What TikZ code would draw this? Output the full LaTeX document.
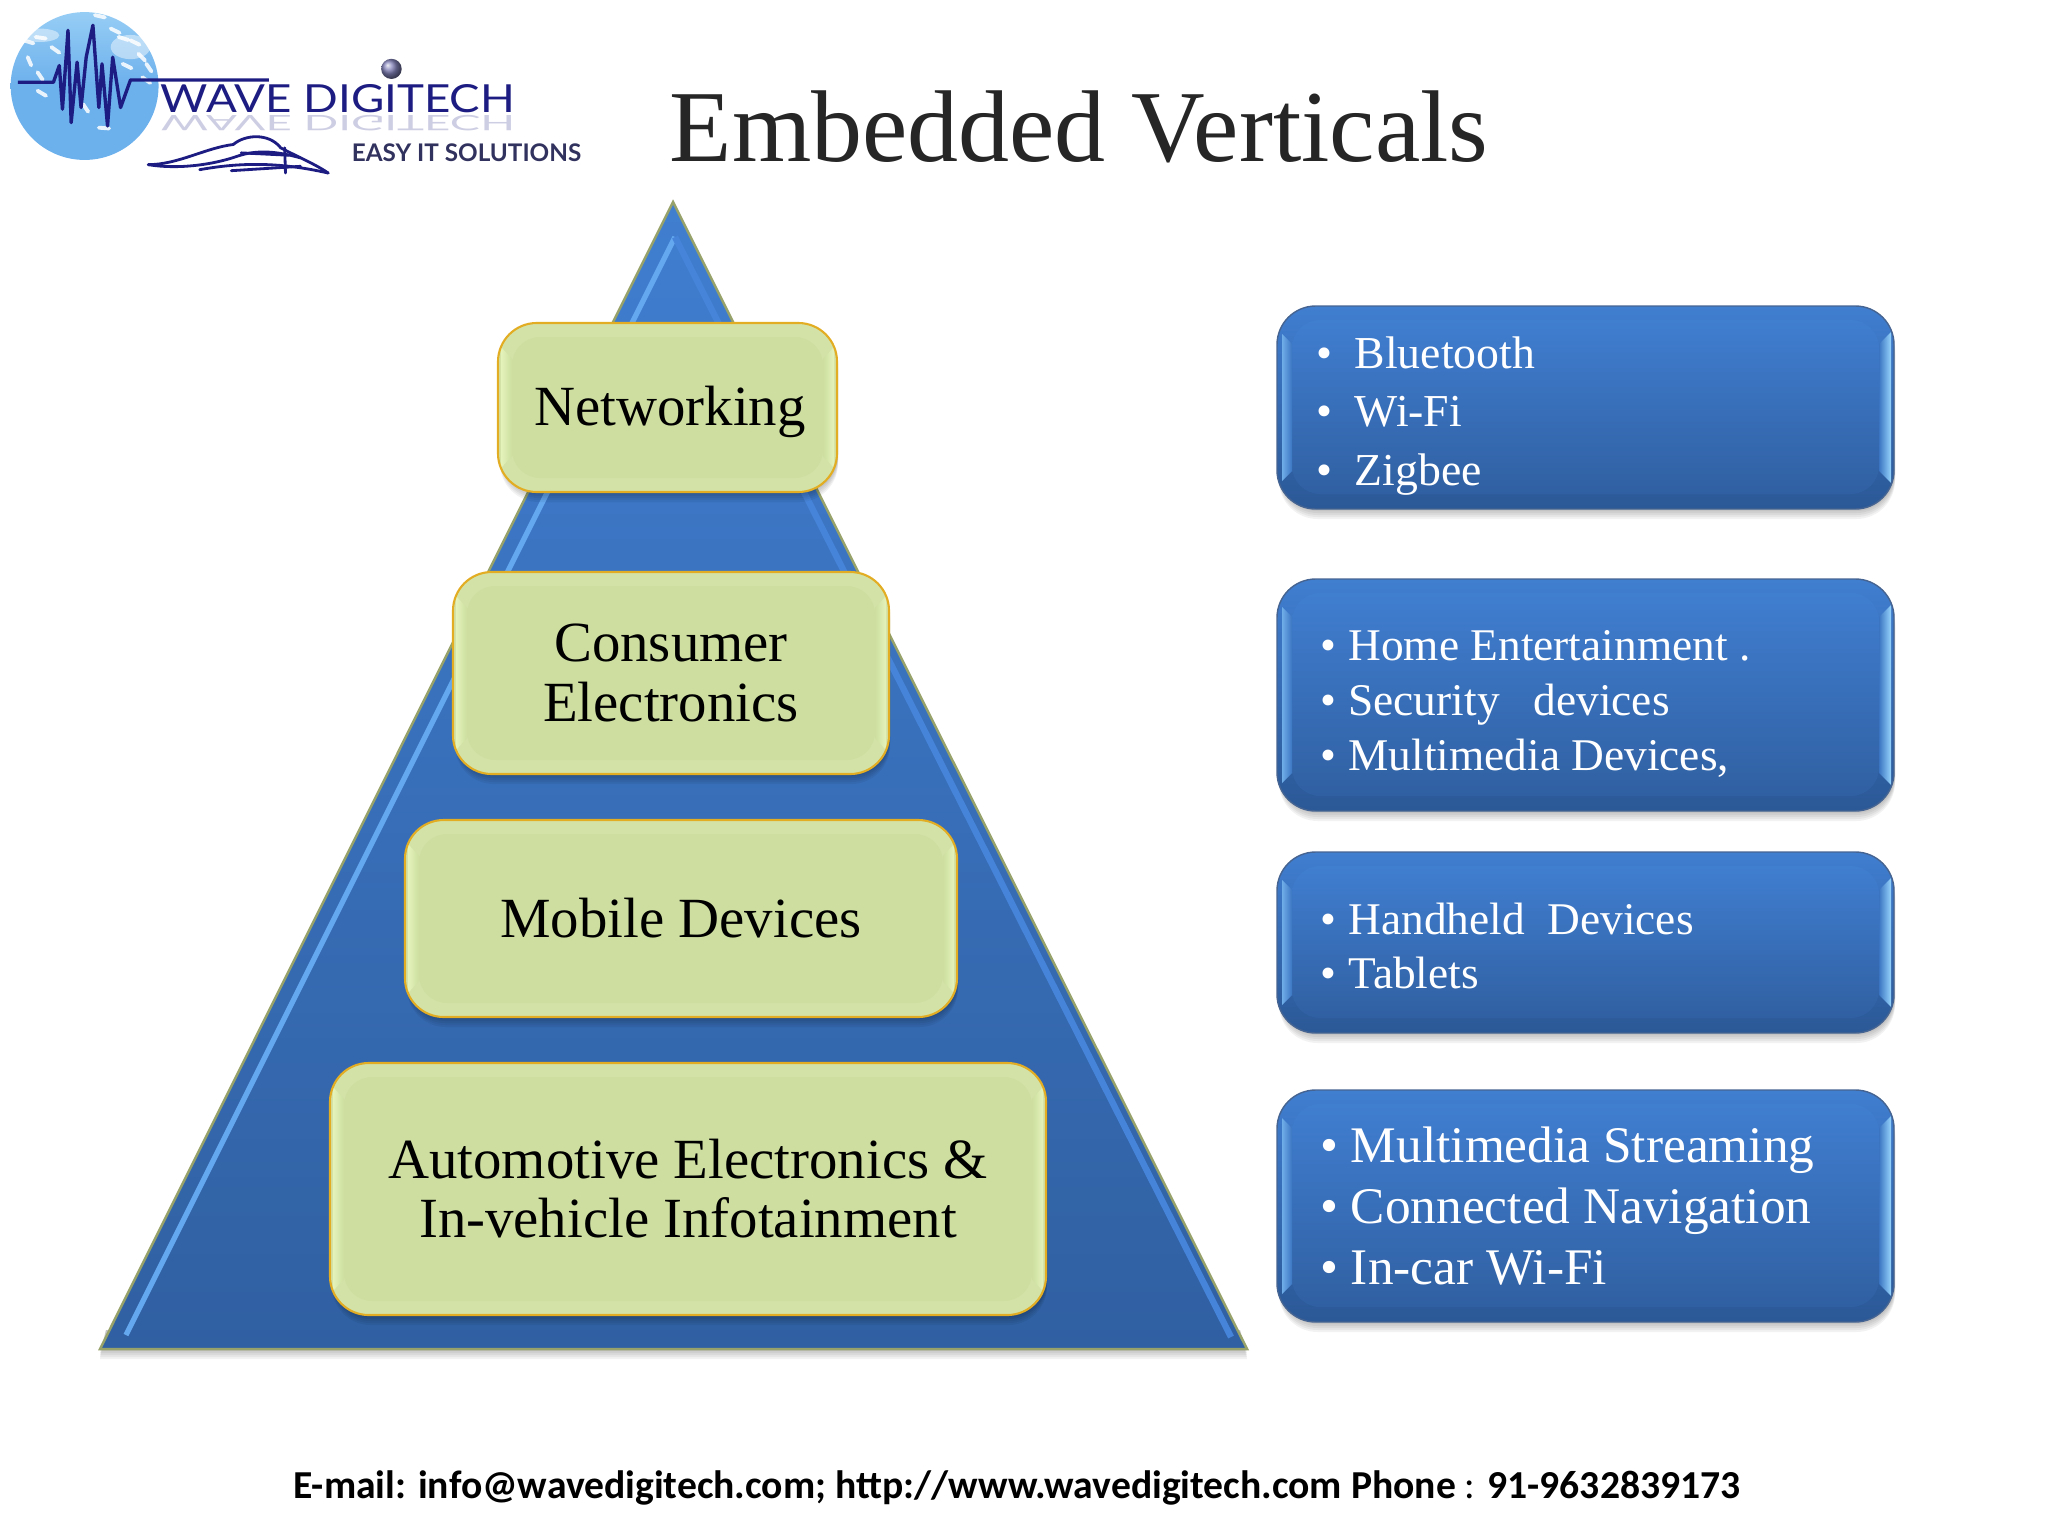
\documentclass[tikz,border=0pt]{standalone}
\usepackage{fontspec}
\usepackage{graphicx}
\usepackage{tikz}
\setmainfont{Liberation Serif}
\newfontfamily\footfont{Carlito}
\newfontfamily\logofont{Lato}
\definecolor{figblue}{RGB}{64,126,208}
\definecolor{figbluelo}{RGB}{48,96,162}
\definecolor{figblueed}{RGB}{43,88,150}
\definecolor{figbluehi}{RGB}{150,212,252}
\definecolor{figblueln}{RGB}{70,100,145}
\definecolor{figpyrhi}{RGB}{100,168,240}
\definecolor{figpyrmd}{RGB}{70,132,218}
\definecolor{figgreen}{RGB}{205,222,160}
\definecolor{figgreenhi}{RGB}{228,243,186}
\definecolor{figgreened}{RGB}{211,227,168}
\definecolor{figgold}{RGB}{226,172,35}
\definecolor{figolive}{RGB}{150,162,105}
\definecolor{fignavy}{RGB}{28,28,130}
\definecolor{figsky}{RGB}{108,176,236}
\definecolor{figskyhi}{RGB}{150,205,245}
\definecolor{figtag}{RGB}{50,50,95}
\tikzset{
  softsh/.style  ={fill=black,opacity=0.05,rounded corners=11pt},
  grnlab/.style  ={inner sep=0pt,align=center,text=black,font=\fontsize{16.15}{16.8}\selectfont},
  blulab/.style  ={inner sep=0pt,align=left,anchor=west,text=white},
  lstA/.style    ={blulab,font=\fontsize{13}{16.6}\selectfont},
  lstB/.style    ={blulab,font=\fontsize{12.9}{15.6}\selectfont},
  lstC/.style    ={blulab,font=\fontsize{14.6}{17.4}\selectfont},
  logotxt/.style ={inner sep=0pt,anchor=base west,text=fignavy},
  spark/.style   ={white,line width=1.1pt,line cap=round,opacity=0.85},
  swoosh/.style  ={fignavy,line width=0.8pt,line cap=round},
}
\newcommand{\blt}[1]{\makebox[#1][l]{•}}
\newcommand{\softbox}[4]{%
  \foreach \sd in {1,...,5}
    \fill[softsh] (#1+2,#2+\sd*2) rectangle (#3+1,#4+\sd*2);
}
\newcommand{\grnbox}[6]{%
  \softbox{#2}{#3}{#4}{#5}
  \path[rounded corners=11pt,fill=figgreened] (#2,#3) rectangle (#4,#5);
  \path[rounded corners=8pt,fill=figgreen] (#2+14,#3+14) rectangle (#4-14,#5-14);
  \shade[left color=figgreenhi,right color=figgreen] (#2+3,#3+24) -- (#2+14,#3+36) -- (#2+14,#5-36) -- (#2+3,#5-24) -- cycle;
  \shade[left color=figgreen,right color=figgreenhi] (#4-14,#3+36) -- (#4-3,#3+24) -- (#4-3,#5-24) -- (#4-14,#5-36) -- cycle;
  \draw[rounded corners=11pt,draw=figgold,line width=0.6pt] (#2,#3) rectangle (#4,#5);
  \node[grnlab] (#1) at ({(#2+#4)/2},{(#3+#5)/2}) {#6};
}
\newcommand{\blubox}[5]{%
  \softbox{#2}{#3}{#4}{#5}
  \path[rounded corners=11pt,top color=figblue,bottom color=figblueed] (#2,#3) rectangle (#4,#5);
  \path[rounded corners=8pt,top color=figblue,bottom color=figbluelo] (#2+15,#3+14) rectangle (#4-15,#5-15);
  \shade[left color=figbluehi!55!figblue,right color=figblue!70!figbluelo] (#2+5,#3+28) -- (#2+15,#3+38) -- (#2+15,#5-38) -- (#2+5,#5-28) -- cycle;
  \shade[left color=figblue!70!figbluelo,right color=figbluehi] (#4-15,#3+38) -- (#4-3,#3+26) -- (#4-3,#5-26) -- (#4-15,#5-38) -- cycle;
  \draw[rounded corners=11pt,draw=figblueln,line width=0.4pt] (#2,#3) rectangle (#4,#5);
  \coordinate (#1) at ({(#2+#4)/2},{(#3+#5)/2});
}
\begin{document}
\begin{tikzpicture}[x=0.01cm,y=-0.01cm]
  \useasboundingbox (0,0) rectangle (2048,1536);
  % logo
  \begin{scope}[xscale=0.3954,yscale=0.336]
    \path[top color=figskyhi,bottom color=figsky,middle color=figsky] (214,256) ellipse (187 and 220);
    \foreach \sx/\sy/\ang in {60/120/20,95/215/60,95/270/35,90/110/10,350/160/50,330/120/30,240/45/15,280/85/30,250/380/5,360/230/40,210/310/60,310/190/30,130/140/40,70/170/70,300/110/20,370/190/60}
      \draw[spark] (\sx,\sy) -- ++(\ang:26);
    \fill[white,opacity=0.45] (100,105) ellipse (50 and 20);
    \fill[white,opacity=0.45] (330,140) ellipse (50 and 36);
    \draw[fignavy,line width=0.95pt,line join=round] (45,245) -- (135,245) -- (150,195) -- (158,325) -- (172,90) -- (180,365) -- (195,185) -- (205,320) -- (218,170) -- (235,75) -- (250,320) -- (258,190) -- (272,375) -- (285,170) -- (305,320) -- (330,238) -- (680,238);
    \shade[ball color=fignavy!55] (990,205) ellipse (26 and 30);
    \node[logotxt,font=\logofont\fontsize{11}{11}\selectfont] (logoname) at (405,335) {\scalebox{1.18}[1]{WAVE DIGITECH}};
    \node[logotxt,opacity=0.22,font=\logofont\fontsize{11}{11}\selectfont] (logomirror) at (405,345) {\scalebox{1.18}[-0.55]{WAVE DIGITECH}};
    \node[logotxt,font=\logofont\bfseries\fontsize{6.9}{7}\selectfont,text=figtag] (logotag) at (888,480) {EASY IT SOLUTIONS};
    \draw[swoosh] (375,490) .. controls (450,490) and (520,440) .. (590,430) .. controls (620,400) and (680,395) .. (710,440) .. controls (750,465) and (800,490) .. (830,515);
    \draw[swoosh] (375,490) .. controls (450,505) and (540,490) .. (600,465) .. controls (650,445) and (700,450) .. (760,470);
    \draw[swoosh] (505,505) .. controls (600,485) and (700,480) .. (830,515);
    \draw[swoosh] (585,508) -- (760,495);
    \draw[swoosh] (610,455) -- (730,462);
    \draw[swoosh] (720,440) -- (722,515);
  \end{scope}
  % title
  \node[inner sep=0pt,text=black!85,font=\fontsize{29}{30}\selectfont] (title) at (1079,127) {Embedded Verticals};
  % pyramid
  \foreach \sd in {1,...,5}
    \fill[black,opacity=0.05] (100,1349+\sd*2) -- (1247,1349+\sd*2) -- (1240,1330) -- (106,1330) -- cycle;
  \path[top color=figblue,bottom color=figbluelo,draw=figolive,line width=0.7pt,line join=miter] (673,202) -- (1247,1349) -- (100,1349) -- cycle;
  \draw[figpyrhi,line width=1.5pt] (675,237) -- (126,1335);
  \draw[figpyrmd,line width=1.8pt] (675,237) -- (1231,1337);
  % levels
  \grnbox{netw}{498}{323}{837}{492}{\hspace*{1.4pt}Networking\rule{0pt}{13.9pt}}
  \grnbox{cons}{453}{572}{889}{774}{Consumer\\Electronics}
  \grnbox{mobi}{405}{820}{957}{1017}{Mobile Devices}
  \grnbox{auto}{330}{1063}{1046}{1315}{Automotive Electronics \&\\In-vehicle Infotainment}
  % lists
  \blubox{btbox}{1277}{306}{1894}{509}
  \node[lstA] (btlist) at (1316,416) {\blt{10.8pt}Bluetooth\\\blt{10.8pt}Wi-Fi\\\blt{10.8pt}Zigbee};
  \blubox{hmbox}{1277}{579}{1894}{811}
  \node[lstB] (hmlist) at (1320,704) {\blt{7.9pt}Home Entertainment .\\\blt{7.9pt}Security \ \ devices\\\blt{7.9pt}Multimedia Devices,};
  \blubox{hdbox}{1277}{852}{1894}{1033}
  \node[lstB] (hdlist) at (1320,946) {\blt{7.9pt}Handheld \ Devices\\\blt{7.9pt}Tablets};
  \blubox{mmbox}{1277}{1090}{1894}{1322}
  \node[lstC] (mmlist) at (1320,1206) {\blt{8.6pt}Multimedia Streaming\\\blt{8.6pt}Connected Navigation\\\blt{8.6pt}In-car Wi-Fi};
  % footer
  \node[inner sep=0pt,font=\footfont\bfseries\fontsize{11.27}{13}\selectfont] (foot) at (1017,1488) {E-mail: info@wavedigitech.com; http://www.wavedigitech.com Phone {\mdseries:} 91-9632839173};
\end{tikzpicture}
\end{document}
